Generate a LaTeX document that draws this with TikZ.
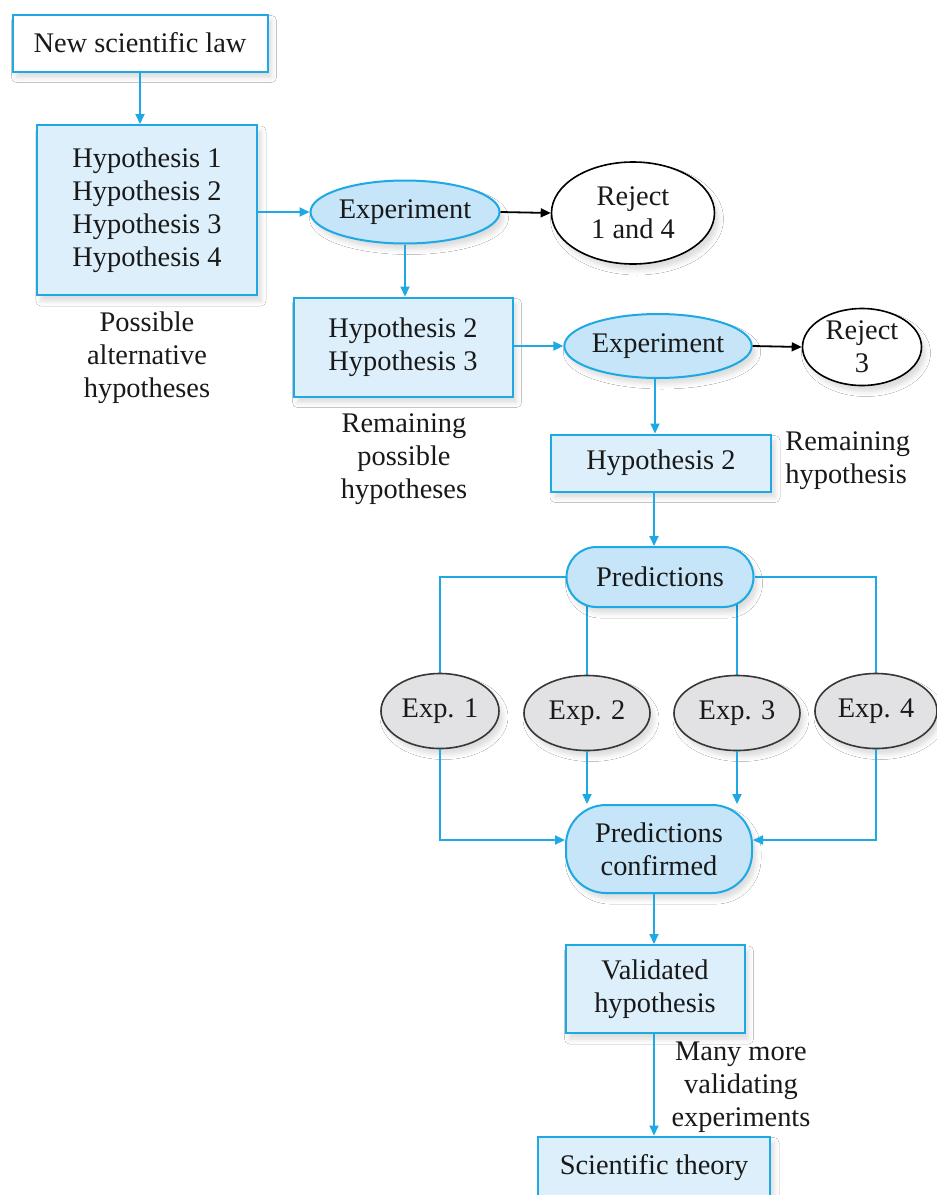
\documentclass[tikz,border=0pt]{standalone}
\usepackage{fontspec}
\setmainfont{Liberation Serif}
\usetikzlibrary{shapes.geometric,arrows.meta,backgrounds,shadows.blur}

\definecolor{flowblue}{RGB}{30,168,228}
\definecolor{boxfill}{RGB}{220,239,251}
\definecolor{ovalfill}{RGB}{198,229,248}
\definecolor{greyfill}{RGB}{226,226,228}
\definecolor{greyline}{RGB}{55,55,55}
\definecolor{ink}{RGB}{25,25,25}

\tikzset{
  txt/.style={font=\fontsize{14.2}{16.5}\selectfont, text=ink, align=center, inner sep=0pt},
  base/.style={txt, line width=1pt,
    blur shadow={shadow xshift=2pt, shadow yshift=-3pt, shadow blur radius=2.5pt, shadow opacity=14}},
  hbox/.style={base, rectangle, draw=flowblue, fill=boxfill},
  wbox/.style={hbox, fill=white},
  expoval/.style={base, ellipse, draw=flowblue, fill=ovalfill},
  rejoval/.style={base, ellipse, draw=black, fill=white, line width=0.8pt},
  testoval/.style={base, ellipse, draw=greyline, fill=greyfill, line width=0.8pt},
  pill/.style={base, rectangle, rounded corners=#1, draw=flowblue, fill=ovalfill},
  note/.style={txt},
  link/.style={draw=flowblue, line width=1pt},
  arr/.style={link, -{Triangle[length=5pt,width=4.5pt]}},
  blackarr/.style={draw=black, line width=0.9pt, -{Triangle[length=5pt,width=4.5pt]}},
}

\begin{document}
\begin{tikzpicture}[x=0.5pt,y=-0.5pt]
  \clip (0,0) rectangle (937,1195);

  % first round of hypotheses
  \node[wbox, minimum width=127.5pt, minimum height=28.5pt] (law) at (140,43) {New scientific law};
  \node[hbox, minimum width=110pt, minimum height=85pt] (h1234) at (147,210)
    {Hypothesis 1\\Hypothesis 2\\Hypothesis 3\\Hypothesis 4};
  \node[note] (n1) at (147,358) {Possible\\alternative\\hypotheses};
  \node[expoval, minimum width=94.5pt, minimum height=31.5pt] (x1) at (405,212) {Experiment};
  \node[rejoval, minimum width=81.5pt, minimum height=51pt] (r14) at (633,213) {Reject\\1 and 4};

  % second round
  \node[hbox, minimum width=109.5pt, minimum height=49.5pt] (h23) at (403,347)
    {Hypothesis 2\\Hypothesis 3};
  \node[note] (n2) at (404,459) {Remaining\\possible\\hypotheses};
  \node[expoval, minimum width=93.5pt, minimum height=32pt] (x2) at (658,346) {Experiment};
  \node[rejoval, minimum width=59.5pt, minimum height=38.5pt] (r3) at (862,347) {Reject\\3};

  % remaining hypothesis and predictions
  \node[hbox, minimum width=110pt, minimum height=28.5pt] (h2) at (661,463) {Hypothesis 2};
  \node[note, align=left, anchor=west] (n3) at (785,461) {Remaining\\hypothesis};
  \node[pill=15pt, minimum width=93.5pt, minimum height=30pt] (pred) at (660,577) {Predictions};

  % tests
  \node[testoval, minimum width=59pt, minimum height=37.5pt] (e1) at (440,711) {Exp. 1};
  \node[testoval, minimum width=63pt, minimum height=37.5pt] (e2) at (587,713) {Exp. 2};
  \node[testoval, minimum width=63pt, minimum height=37.5pt] (e3) at (737,713) {Exp. 3};
  \node[testoval, minimum width=61pt, minimum height=37.5pt] (e4) at (876,711) {Exp. 4};

  \node[pill=20pt, minimum width=93pt, minimum height=44pt] (pc) at (659,849) {Predictions\\confirmed};
  \node[hbox, minimum width=89.5pt, minimum height=44pt] (val) at (655,989) {Validated\\hypothesis};
  \node[note] (n4) at (741,1087) {Many more\\validating\\experiments};
  \node[hbox, minimum width=116pt, minimum height=31.5pt] (thy) at (654,1168) {Scientific theory};

  % connectors
  \draw[arr] (law) -- (law |- h1234.north);
  \draw[arr] (h1234.east |- x1) -- (x1.west);
  \draw[blackarr] (x1.east) -- (r14.west);
  \draw[arr] (x1.south) -- (h23.north -| x1.south);
  \draw[arr] (h23.east |- x2) -- (x2.west);
  \draw[blackarr] (x2.east) -- (r3.west);
  \draw[arr] (x2.south -| 655,0) -- (h2.north -| 655,0);
  \draw[arr] (h2.south -| 654,0) -- (pred.north -| 654,0);

  \begin{scope}[on background layer]
    \fill[white] (0,0) rectangle (937,1195);
    \draw[link] (pred.west) -| (e1.north);
    \draw[link] (pred.east) -| (e4.north);
    \draw[link] (pred.center -| e2.north) -- (e2.north);
    \draw[link] (pred.center -| e3.north) -- (e3.north);
  \end{scope}

  \draw[arr] (e1.south) |- ([yshift=4.5pt]pc.west);
  \draw[arr] (e4.south) |- ([yshift=4.5pt]pc.east);
  \draw[arr] (e2.south) -- (e2.south |- pc.north);
  \draw[arr] (e3.south) -- (e3.south |- pc.north);
  \draw[arr] (pc.south -| 654,0) -- (val.north -| 654,0);
  \draw[arr] (val.south -| 654,0) -- (thy.north -| 654,0);
\end{tikzpicture}
\end{document}
